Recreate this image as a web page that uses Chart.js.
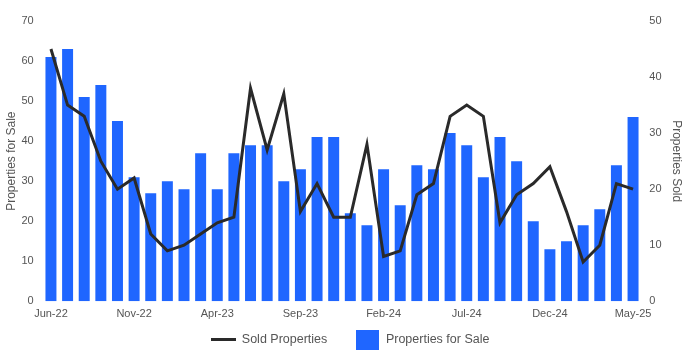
<!DOCTYPE html>
<html>
<head>
<meta charset="utf-8">
<script src="https://cdn.jsdelivr.net/npm/chart.js@4/dist/chart.umd.min.js"></script>
<style>
  html, body { margin: 0; padding: 0; background: #fff; }
  #wrap { width: 700px; height: 350px; }
</style>
</head>
<body>
<div id="wrap"><canvas id="salesChart"></canvas></div>
<script>
const months = [
    "Jun-22", "Jul-22", "Aug-22", "Sep-22", "Oct-22", "Nov-22", "Dec-22",
    "Jan-23", "Feb-23", "Mar-23", "Apr-23", "May-23", "Jun-23", "Jul-23",
    "Aug-23", "Sep-23", "Oct-23", "Nov-23", "Dec-23", "Jan-24", "Feb-24",
    "Mar-24", "Apr-24", "May-24", "Jun-24", "Jul-24", "Aug-24", "Sep-24",
    "Oct-24", "Nov-24", "Dec-24", "Jan-25", "Feb-25", "Mar-25", "Apr-25",
    "May-25"
];
const forSale = [
    61, 63, 51, 54, 45, 31, 27, 30, 28, 37, 28, 37, 39, 39, 30, 33, 41, 41,
    22, 19, 33, 24, 34, 33, 42, 39, 31, 41, 35, 20, 13, 15, 19, 23, 34, 46
];
const sold = [
    45, 35, 33, 25, 20, 22, 12, 9, 10, 12, 14, 15, 38, 27, 37, 16, 21, 15,
    15, 28, 8, 9, 19, 21, 33, 35, 33, 14, 19, 21, 24, 16, 7, 10, 21, 20
];
const leftTicks = { min: 0, max: 70, step: 10 };
const rightTicks = { min: 0, max: 50, step: 10 };

const textColor = "#555";
const barColor = "#1f66ff";
const lineColor = "#2a2a2a";
const fontFam = "Arial, Liberation Sans";

// legend icons drawn as small canvases
function makeIcon(w, h, color) {
    const c = document.createElement("canvas");
    c.width = w;
    c.height = h;
    const g = c.getContext("2d");
    g.fillStyle = color;
    g.fillRect(0, 0, w, h);
    return c;
}
const lineIcon = makeIcon(25, 3, lineColor);
const boxIcon = makeIcon(23, 20, barColor);

const ctx = document.getElementById("salesChart").getContext("2d");
new Chart(ctx, {
    data: {
        labels: months,
        datasets: [
            {
                type: "line",
                label: "Sold Properties",
                data: sold,
                yAxisID: "y1",
                borderColor: lineColor,
                backgroundColor: lineColor,
                borderWidth: 3,
                pointRadius: 0,
                tension: 0,
                order: 0,
            },
            {
                type: "bar",
                label: "Properties for Sale",
                data: forSale,
                yAxisID: "y",
                backgroundColor: barColor,
                barPercentage: 0.66,
                categoryPercentage: 1,
                order: 1,
            },
        ],
    },
    options: {
        responsive: true,
        maintainAspectRatio: false,
        animation: false,
        layout: { padding: { top: 21, right: 2, left: 2, bottom: -6 } },
        plugins: {
            legend: {
                position: "bottom",
                labels: {
                    usePointStyle: true,
                    pointStyleWidth: 25,
                    color: textColor,
                    font: { family: fontFam, size: 12.5 },
                    padding: 10,
                    generateLabels: function (chart) {
                        const items = Chart.defaults.plugins.legend.labels.generateLabels(chart);
                        items[0].pointStyle = lineIcon;
                        items[0].text += "     "; // gap before next item
                        items[1].pointStyle = boxIcon;
                        return items;
                    },
                },
            },
            tooltip: { enabled: false },
        },
        scales: {
            x: {
                grid: { display: false, drawTicks: false },
                border: { display: false },
                afterFit: function (axis) {
                    axis.height -= 3;
                },
                ticks: {
                    autoSkip: false,
                    maxRotation: 0,
                    color: textColor,
                    font: { family: fontFam, size: 11 },
                    padding: 6,
                    callback: function (val, i) {
                        return i % 5 === 0 ? months[i] : "";
                    },
                },
            },
            y: {
                position: "left",
                min: leftTicks.min,
                max: leftTicks.max,
                grid: { display: false },
                border: { display: false },
                ticks: {
                    stepSize: leftTicks.step,
                    color: textColor,
                    font: { family: fontFam, size: 11 },
                    padding: 1,
                },
                title: {
                    display: true,
                    text: "Properties for Sale",
                    color: textColor,
                    font: { family: fontFam, size: 12 },
                    padding: 2,
                },
            },
            y1: {
                position: "right",
                min: rightTicks.min,
                max: rightTicks.max,
                grid: { display: false },
                border: { display: false },
                afterFit: function (axis) {
                    axis.width += 6;
                },
                ticks: {
                    stepSize: rightTicks.step,
                    color: textColor,
                    font: { family: fontFam, size: 11 },
                    padding: 0,
                },
                title: {
                    display: true,
                    text: "Properties Sold",
                    color: textColor,
                    font: { family: fontFam, size: 12 },
                    padding: { top: 14, bottom: 2 },
                },
            },
        },
    },
});
</script>
</body>
</html>
